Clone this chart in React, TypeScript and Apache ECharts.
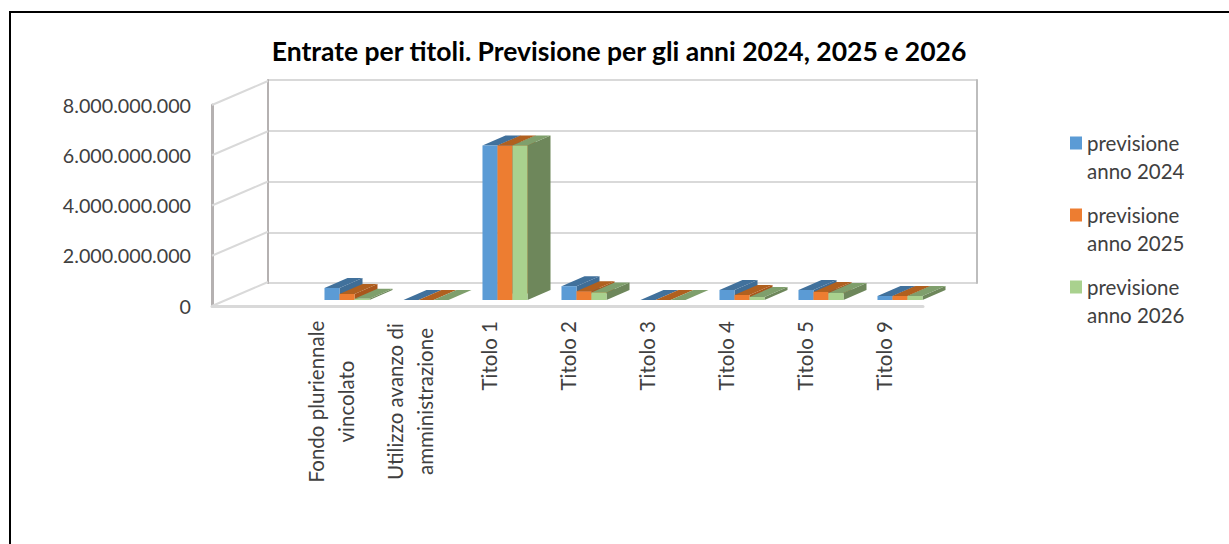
import React, { useEffect, useRef } from "react";
import * as echarts from "echarts";

const titleText = "Entrate per titoli. Previsione per gli anni 2024, 2025 e 2026";
const categories = [
  "",
  "Fondo pluriennale\nvincolato",
  "Utilizzo avanzo di\namministrazione",
  "Titolo 1",
  "Titolo 2",
  "Titolo 3",
  "Titolo 4",
  "Titolo 5",
  "Titolo 9",
];
const seriesNames = ["previsione\nanno 2024", "previsione\nanno 2025", "previsione\nanno 2026"];
const values2024 = [480000000, 0, 6150000000, 550000000, 0, 400000000, 400000000, 160000000];
const values2025 = [240000000, 0, 6150000000, 350000000, 0, 200000000, 320000000, 160000000];
const values2026 = [50000000, 0, 6150000000, 300000000, 0, 120000000, 280000000, 160000000];
const yTicks = [0, 2000000000, 4000000000, 6000000000, 8000000000];

const frontColors = ["#5B9BD5", "#ED7D31", "#A9D18E"];
const topColors = ["#41719C", "#B0601F", "#7F9F6C"];
const sideColors = ["#3F6D96", "#A9561C", "#6E875B"];

const FONT = "Lato";
const WALL_DX = 56;
const WALL_DY = -24;
const BAR_DX = 23;
const BAR_DY = -10;
const PLANE_DX = 16.5;
const PLANE_DY = -6;

const barRenderer = (s: number) => (params: any, api: any) => {
  const p = api.coord([api.value(0), api.value(1)]);
  const base = api.coord([api.value(0), 0]);
  const bw = api.size([1, 0])[0] * 0.19;
  const x0 = p[0] + PLANE_DX + (s - 1.5) * bw;
  const x1 = x0 + bw;
  const yTop = p[1] + PLANE_DY;
  const yBase = base[1] + PLANE_DY;
  return {
    type: "group",
    children: [
      {
        type: "polygon",
        shape: { points: [[x1, yTop], [x1 + BAR_DX, yTop + BAR_DY], [x1 + BAR_DX, yBase + BAR_DY], [x1, yBase]] },
        style: { fill: sideColors[s] },
      },
      {
        type: "polygon",
        shape: { points: [[x0, yTop], [x0 + BAR_DX, yTop + BAR_DY], [x1 + BAR_DX, yTop + BAR_DY], [x1, yTop]] },
        style: { fill: topColors[s] },
      },
      {
        type: "rect",
        shape: { x: x0, y: yTop, width: bw, height: yBase - yTop },
        style: { fill: frontColors[s] },
      },
    ],
  };
};

const wallRenderer = (params: any, api: any) => {
  const p = api.coord([0, api.value(0)]);
  const x = params.coordSys.x;
  return {
    type: "line",
    shape: { x1: x, y1: p[1], x2: x + WALL_DX, y2: p[1] + WALL_DY },
    style: { stroke: "#D9D9D9", lineWidth: 2 },
  };
};

export default function App() {
  const ref = useRef<HTMLDivElement>(null);
  useEffect(() => {
    const chart = echarts.init(ref.current!, undefined, { renderer: "svg" });
    const allValues = [values2024, values2025, values2026];
    chart.setOption({
      animation: false,
      backgroundColor: "#FFFFFF",
      title: {
        text: titleText,
        left: 614,
        top: 32,
        textAlign: "center",
        textStyle: { fontFamily: FONT, fontWeight: "bold", fontSize: 26.5, color: "#000000" },
      },
      legend: {
        orient: "vertical",
        left: 1065,
        top: 96,
        itemWidth: 12,
        itemHeight: 13,
        icon: "rect",
        itemGap: -12,
        selectedMode: false,
        data: seriesNames,
        formatter: (name: string) => " \n" + name,
        textStyle: {
          fontFamily: FONT,
          fontSize: 20.5,
          color: "#404040",
          lineHeight: 28,
        },
      },
      grid: [
        { left: 212, top: 105, width: 711, height: 201 },
        { left: 268, top: 80, width: 709, height: 203 },
      ],
      xAxis: [
        {
          type: "category",
          gridIndex: 0,
          data: categories,
          axisTick: { show: false },
          axisLine: { show: true, lineStyle: { color: "#D9D9D9", width: 3 } },
          axisLabel: {
            interval: 0,
            rotate: 90,
            margin: 15,
            fontFamily: FONT,
            fontSize: 20.5,
            lineHeight: 30,
            color: "#404040",
            formatter: (v: string) =>
              v.includes("\n") ? v.split("\n").map((l) => `{c|${l}}`).join("\n") : v,
            rich: {
              c: { width: 161, align: "center", fontFamily: FONT, fontSize: 20.5, lineHeight: 30, color: "#404040" },
            },
          },
        },
        {
          type: "category",
          gridIndex: 1,
          data: categories,
          axisTick: { show: false },
          axisLabel: { show: false },
          axisLine: { show: false },
        },
      ],
      yAxis: [
        {
          type: "value",
          gridIndex: 0,
          min: 0,
          max: 8000000000,
          interval: 2000000000,
          splitLine: { show: false },
          axisTick: { show: false },
          axisLine: { show: true, lineStyle: { color: "#B5B1B1", width: 3 } },
          axisLabel: {
            margin: 21,
            fontFamily: FONT,
            fontSize: 19.7,
            color: "#404040",
            formatter: (v: number) => String(v).replace(/\B(?=(\d{3})+$)/g, "."),
          },
        },
        {
          type: "value",
          gridIndex: 1,
          min: 0,
          max: 8000000000,
          interval: 2000000000,
          splitLine: { show: true, lineStyle: { color: "#D9D9D9", width: 2 } },
          axisTick: { show: false },
          axisLabel: { show: false },
          axisLine: { show: true, lineStyle: { color: "#B5B1B1", width: 2 } },
        },
        {
          type: "value",
          gridIndex: 1,
          position: "right",
          min: 0,
          max: 8000000000,
          interval: 2000000000,
          splitLine: { show: false },
          axisTick: { show: false },
          axisLabel: { show: false },
          axisLine: { show: true, onZero: false, lineStyle: { color: "#BDBDBD", width: 2 } },
        },
      ],
      graphic: [
        { type: "line", shape: { x1: 9, y1: 12, x2: 1229, y2: 12 }, style: { stroke: "#000000", lineWidth: 2 } },
        { type: "line", shape: { x1: 10, y1: 12, x2: 10, y2: 544 }, style: { stroke: "#000000", lineWidth: 2 } },
      ],
      series: [
        {
          type: "custom",
          name: "pareti",
          xAxisIndex: 0,
          yAxisIndex: 0,
          silent: true,
          z: 1,
          renderItem: wallRenderer,
          encode: { y: 0 },
          data: yTicks.map((v) => [v]),
        },
        ...seriesNames.map((name, s) => ({
          type: "custom",
          name,
          xAxisIndex: 0,
          yAxisIndex: 0,
          z: 3 + s,
          clip: false,
          itemStyle: { color: frontColors[s] },
          renderItem: barRenderer(s),
          encode: { x: 0, y: 1 },
          data: allValues[s].map((v, i) => [i + 1, v]),
        })),
      ],
    });
    return () => chart.dispose();
  }, []);
  return <div ref={ref} style={{ position: "fixed", left: 0, top: 0, width: 1229, height: 544 }} />;
}
